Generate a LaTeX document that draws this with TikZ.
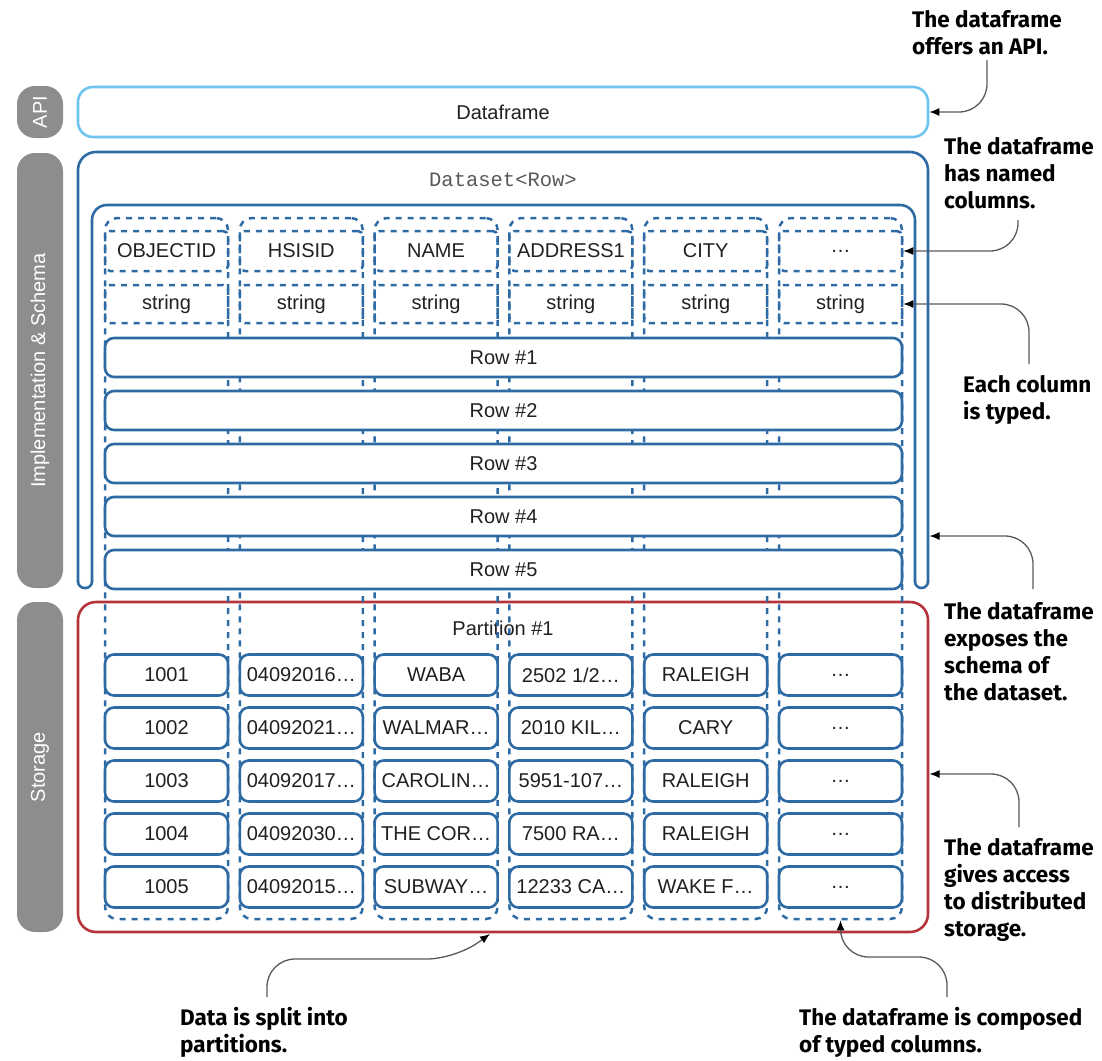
\documentclass[tikz,border=0pt]{standalone}
\usepackage{fontspec}
\setmainfont{Liberation Sans}
\setmonofont{Liberation Mono}
\newfontfamily\notefont{Fira Sans}
\usetikzlibrary{arrows.meta,positioning}
\definecolor{apiblue}{HTML}{6EC6F0}
\definecolor{dsblue}{HTML}{2E6BA5}
\definecolor{partred}{HTML}{B5343B}
\definecolor{pillgray}{HTML}{8B8D8E}
\definecolor{notegray}{HTML}{5A5A5A}
\definecolor{ink}{HTML}{231F20}

\begin{document}
\begin{tikzpicture}[
    x=1pt, y=-1pt,
    >={Latex[length=10pt,width=8pt,black]},
    font=\fontsize{20}{24}\selectfont, text=ink,
    pill/.style={fill=pillgray, rounded corners=18pt, rotate=90, minimum height=46pt, inner sep=0pt,
        text=white, font=\fontsize{20}{24}\selectfont},
    apibox/.style={draw=apiblue, line width=2.6pt, rounded corners=15pt, minimum width=850pt, minimum height=50pt},
    dsframe/.style={draw=dsblue, line width=2.6pt},
    partbox/.style={draw=partred, line width=2.6pt, rounded corners=18pt, minimum width=850pt, minimum height=330pt},
    colbox/.style={draw=dsblue, line width=2.5pt, dash pattern=on 6pt off 6pt, rounded corners=12pt,
        minimum width=123pt, minimum height=701pt, inner sep=0pt},
    headcell/.style={draw=dsblue, line width=2.5pt, dash pattern=on 6pt off 6pt, rounded corners=5pt,
        minimum width=123pt, minimum height=40pt, inner sep=0pt},
    rowbox/.style={draw=dsblue, line width=2.6pt, fill=white, rounded corners=9pt,
        minimum width=797pt, minimum height=39pt, inner sep=0pt},
    cell/.style={draw=dsblue, line width=2.6pt, fill=white, rounded corners=9pt,
        minimum width=123pt, minimum height=41pt, inner sep=0pt},
    note/.style={font=\notefont\bfseries\fontsize{22.5}{27}\selectfont, text=black, align=left,
        anchor=north west, inner sep=0pt},
    notearrow/.style={->, draw=notegray, line width=1.3pt, rounded corners=28pt}
    ]

    \useasboundingbox (0,0) rectangle (1102,1060);

    \node[pill, minimum width=52pt] (pillapi) at (40,112) {API};
    \node[pill, minimum width=435pt] (pillschema) at (40,370.5) {Implementation \& Schema};
    \node[pill, minimum width=330pt] (pillstorage) at (40,767) {Storage};

    \node[apibox] (api) at (503,112) {Dataframe};

    \node[partbox] (partition) at (503,767) {};
    \node (parttitle) at (503,628) {Partition \#1};

    \draw[dsframe, rounded corners=18pt] (78,582) -- (78,152) -- (928,152) -- (928,582);
    \draw[dsframe, rounded corners=15pt] (92,582) -- (92,205) -- (915,205) -- (915,582);
    \draw[dsframe, rounded corners=6.5pt] (78,581) -- (78,588) -- (92,588) -- (92,581);
    \draw[dsframe, rounded corners=6.5pt] (915,581) -- (915,588) -- (928,588) -- (928,581);
    \node[font=\ttfamily\fontsize{20.5}{24}\selectfont, text=black!65] (dstitle) at (503,180) {Dataset<Row>};

    \foreach \name [count=\i from 0] in {OBJECTID,HSISID,NAME,ADDRESS1,CITY,…} {
        \node[colbox] (col\i) at (166.5+134.8*\i,568.5) {};
        \node[headcell] (name\i) at (166.5+134.8*\i,251) {\name};
        \node[headcell, minimum height=38pt] (type\i) at (166.5+134.8*\i,304) {string};
    }

    \foreach \r in {1,...,5}
        \node[rowbox] (row\r) at (503.5,304.5+53*\r) {Row \#\r};

    \foreach \line [count=\r] in {
        {1001,04092016…,WABA,2502 1/2…,RALEIGH,…},
        {1002,04092021…,WALMAR…,2010 KIL…,CARY,…},
        {1003,04092017…,CAROLIN…,5951-107…,RALEIGH,…},
        {1004,04092030…,THE COR…,7500 RA…,RALEIGH,…},
        {1005,04092015…,SUBWAY…,12233 CA…,WAKE F…,…}} {
        \foreach \val [count=\c from 0] in \line
            \node[cell] (d\r-\c) at (166.5+134.8*\c,622+53*\r) {\val};
    }

    \node[note] (a1) at (912,10) {The dataframe\\offers an API.};
    \node[note] (a2) at (944,137) {The dataframe\\has named\\columns.};
    \node[note] (a3) at (963,375) {Each column\\is typed.};
    \node[note] (a4) at (944,602) {The dataframe\\exposes the\\schema of\\the dataset.};
    \node[note] (a5) at (944,838) {The dataframe\\gives access\\to distributed\\storage.};
    \node[note] (a6) at (180,1007) {Data is split into\\partitions.};
    \node[note] (a7) at (799,1007) {The dataframe is composed\\of typed columns.};

    \coordinate (a1foot) at (987,60);
    \coordinate (a2foot) at (1018,220);
    \coordinate (a3foot) at (1029,364);
    \coordinate (a4foot) at (1033,589);
    \coordinate (a5foot) at (1019,827);
    \coordinate (a6foot) at (267,997);
    \coordinate (a7foot) at (947,997);
    \coordinate (dstip) at (929.5,536);
    \coordinate (stortip) at (929.5,774);
    \coordinate (parttip) at (490,934);

    \draw[notearrow] (a1foot) |- (api.east);
    \draw[notearrow] (a2foot) |- (name5.east);
    \draw[notearrow] (a3foot) |- (type5.east);
    \draw[notearrow] (a4foot) |- (dstip);
    \draw[notearrow] (a5foot) |- (stortip);
    \draw[notearrow] (a6foot) |- (455,959) -- (parttip);
    \draw[notearrow] (a7foot) -- ++(0,-40) -| (col5.south);
\end{tikzpicture}
\end{document}
